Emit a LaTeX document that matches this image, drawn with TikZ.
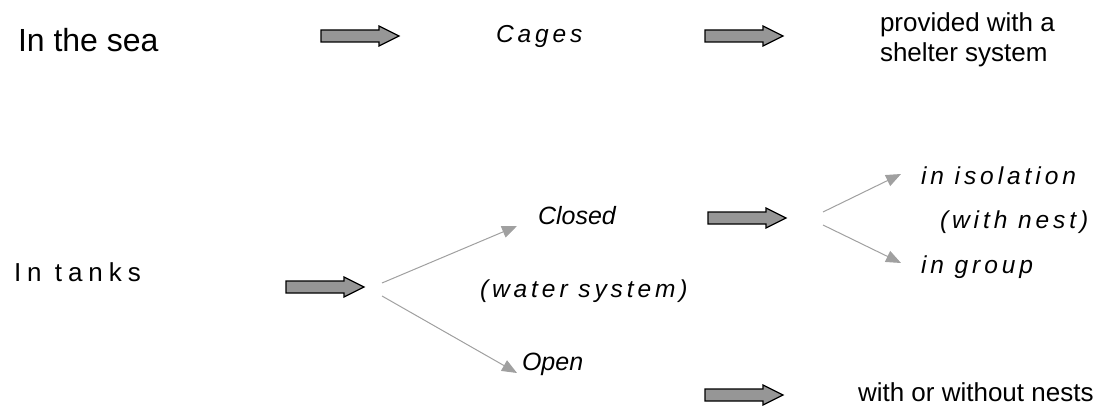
\documentclass[tikz,border=0pt]{standalone}
\usepackage{fontspec}
\setmainfont{Liberation Sans}
\newfontfamily\spaced[LetterSpace=16]{Liberation Sans}
\newfontfamily\spacedwide[LetterSpace=23]{Liberation Sans}
\usetikzlibrary{arrows.meta}
\definecolor{lgray}{RGB}{160,160,160}
\definecolor{agray}{RGB}{150,150,150}
\tikzset{
  txt/.style={anchor=base west, inner sep=0pt, outer sep=0pt},
  big/.style={txt, font=\fontsize{32}{36}\selectfont},
  mid/.style={txt, font=\spacedwide\fontsize{26}{30}\selectfont},
  spit/.style={txt, font=\spaced\itshape\fontsize{24.5}{29}\selectfont},
  plit/.style={txt, font=\itshape\fontsize{25}{29}\selectfont},
  plain/.style={txt, font=\fontsize{26}{30}\selectfont},
  thinarrow/.style={draw=lgray, line width=1pt, -{Triangle[length=15pt,width=12pt,fill=lgray]}},
  barrow/.pic={\draw[fill=agray, line width=1.2pt, line join=miter] (0,-6) -- (58,-6) -- (58,-10) -- (78,0) -- (58,10) -- (58,6) -- (0,6) -- cycle;}
}
\begin{document}
\begin{tikzpicture}[x=1pt,y=-1pt]
\useasboundingbox (0,0) rectangle (1101,409);
% texts
\node[big] (sea) at (18,52) {In the sea};
\node[mid] (tanks) at (14,281) {In tanks};
\node[spit] (cages) at (496,43) {Cages};
\node[plain] (prov1) at (880,32) {provided with a};
\node[plain] (prov2) at (880,62) {shelter system};
\node[plit] (closed) at (538,225) {Closed};
\node[spit] (water) at (480,297) {(water system)};
\node[plit] (open) at (522,370) {Open};
\node[spit] (isol) at (921,185) {in isolation};
\node[spit] (nest) at (940,228) {(with nest)};
\node[spit] (group) at (921,273) {in group};
\node[plain] (without) at (858,401) {with or without nests};
% block arrows
\pic at (321,36) {barrow};
\pic at (705,36) {barrow};
\pic at (286,287) {barrow};
\pic at (708,218) {barrow};
\pic at (705,395) {barrow};
% forks
\coordinate (f1u) at (382,283);
\coordinate (f1d) at (382,296);
\coordinate (t1u) at (517,226);
\coordinate (t1d) at (517,373);
\coordinate (f2u) at (823,212);
\coordinate (f2d) at (823,225);
\coordinate (t2u) at (901,174);
\coordinate (t2d) at (901,263);
\draw[thinarrow] (f1u) -- (t1u);
\draw[thinarrow] (f1d) -- (t1d);
\draw[thinarrow] (f2u) -- (t2u);
\draw[thinarrow] (f2d) -- (t2d);
\end{tikzpicture}
\end{document}
